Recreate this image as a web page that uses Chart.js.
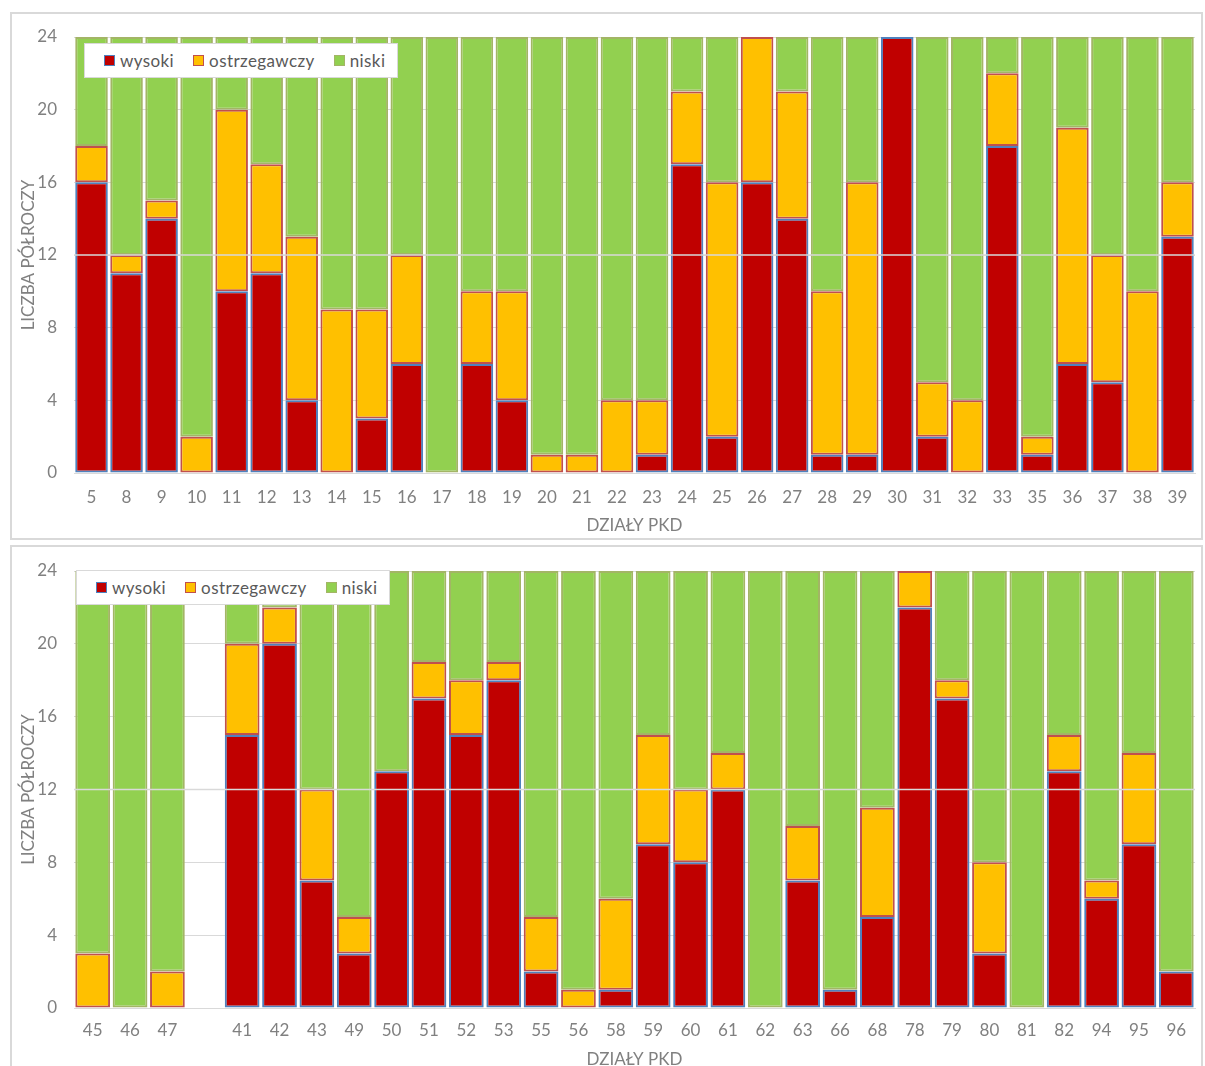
<!DOCTYPE html>
<html>
<head>
<meta charset="utf-8">
<script src="https://cdn.jsdelivr.net/npm/chart.js@4/dist/chart.umd.min.js"></script>
<style>
body { margin: 0; background: #fff; width: 1205px; height: 1066px; overflow: hidden; position: relative; font-family: Lato, sans-serif; }
.panel { position: absolute; left: 10px; width: 1189px; height: 524px; border: 2px solid #d9d9d9; background: #fff; }
.panel canvas { position: absolute; left: 0; top: 0; }
.legenda { position: absolute; background: #fff; border: 1px solid #d9d9d9; height: 35px; width: 314px; box-sizing: border-box;
  display: flex; align-items: center; padding-left: 19px; font-size: 17px; letter-spacing: 0.4px; color: #595959; }
.legenda .item { display: flex; align-items: center; margin-right: 19px; }
.legenda .box { display: inline-block; width: 9px; height: 9px; margin-right: 5px; border: 1px solid; }
</style>
</head>
<body>
<div class="panel" style="top:12px">
  <canvas id="wykres1" width="1189" height="524"></canvas>
  <div class="legenda" id="legenda1" style="left:72px;top:29px"></div>
</div>
<div class="panel" style="top:545px">
  <canvas id="wykres2" width="1189" height="524"></canvas>
  <div class="legenda" id="legenda2" style="left:64px;top:23px"></div>
</div>
<script>
// dzialy PKD - gorny wykres
var dzialy1 = ["5","8","9","10","11","12","13","14","15","16","17","18","19","20","21","22","23","24","25","26","27","28","29","30","31","32","33","35","36","37","38","39"];
var wysoki1 = [16,11,14,0,10,11,4,0,3,6,0,6,4,0,0,0,1,17,2,16,14,1,1,24,2,0,18,1,6,5,0,13];
var ostrzegawczy1 = [2,1,1,2,10,6,9,9,6,6,0,4,6,1,1,4,3,4,14,8,7,9,15,0,3,4,4,1,13,7,10,3];
var niski1 = [6,12,9,22,4,7,11,15,15,12,24,14,14,23,23,20,20,3,8,0,3,14,8,0,19,20,2,22,5,12,14,8];

// dolny wykres (pusta kolumna po 47)
var dzialy2 = ["45","46","47","","41","42","43","49","50","51","52","53","55","56","58","59","60","61","62","63","66","68","78","79","80","81","82","94","95","96"];
var wysoki2 = [0,0,0,null,15,20,7,3,13,17,15,18,2,0,1,9,8,12,0,7,1,5,22,17,3,0,13,6,9,2];
var ostrzegawczy2 = [3,0,2,null,5,2,5,2,0,2,3,1,3,1,5,6,4,2,0,3,0,6,2,1,5,0,2,1,5,0];
var niski2 = [21,24,22,null,4,2,12,19,11,5,6,5,19,23,18,9,12,10,24,14,23,13,0,6,16,24,9,17,10,22];

var yTicks = [0, 4, 8, 12, 16, 20, 24];

var serie = [
  { label: "wysoki", kolor: "#c00000", ramka: "#4f81bd" },
  { label: "ostrzegawczy", kolor: "#ffc000", ramka: "#c0504d" },
  { label: "niski", kolor: "#92d050", ramka: "#a3b566" }
];

var szary = "#808080";
var czcionka = { family: "Lato, sans-serif", size: 17 };

// jasna linia na 12 widoczna nad slupkami
var linia12 = {
  id: "linia12",
  afterDatasetsDraw: function (chart) {
    var a = chart.chartArea;
    var y = chart.scales.y.getPixelForValue(12);
    var ctx = chart.ctx;
    ctx.save();
    ctx.strokeStyle = "#d9d9d9";
    ctx.lineWidth = 1.5;
    ctx.beginPath();
    ctx.moveTo(a.left, y);
    ctx.lineTo(a.right, y);
    ctx.stroke();
    ctx.restore();
  }
};

function rysuj(id, legId, labels, w, o, n, uklad) {
  var wartosci = [w, o, n];
  var datasets = serie.map(function (s, i) {
    return {
      label: s.label,
      data: wartosci[i],
      backgroundColor: s.kolor,
      borderColor: s.ramka,
      borderWidth: 2,
      borderSkipped: false,
      categoryPercentage: 1,
      barPercentage: 0.93
    };
  });

  var leg = document.getElementById(legId);
  serie.forEach(function (s) {
    var it = document.createElement("span");
    it.className = "item";
    var b = document.createElement("span");
    b.className = "box";
    b.style.background = s.kolor;
    b.style.borderColor = s.ramka;
    it.appendChild(b);
    it.appendChild(document.createTextNode(s.label));
    leg.appendChild(it);
  });

  return new Chart(document.getElementById(id).getContext("2d"), {
    type: "bar",
    data: { labels: labels, datasets: datasets },
    options: {
      responsive: false,
      animation: false,
      layout: { padding: { top: uklad.gora, right: 6, left: 0, bottom: 0 } },
      plugins: { legend: { display: false }, tooltip: { enabled: false } },
      scales: {
        x: {
          stacked: true,
          grid: { display: false },
          border: { display: true, color: "#d9d9d9", width: 1 },
          ticks: { color: szary, font: czcionka, padding: uklad.tickPad, autoSkip: false, maxRotation: 0 },
          title: { display: true, text: "DZIAŁY PKD", color: szary, font: czcionka, padding: { top: 0, bottom: uklad.tytulPad } },
          afterFit: function (s) { s.height = uklad.xH; }
        },
        y: {
          stacked: true,
          min: 0,
          max: 24,
          grid: { color: "#d9d9d9", lineWidth: 1, drawTicks: true, tickLength: 17, tickColor: "rgba(0,0,0,0)" },
          border: { display: false },
          afterBuildTicks: function (s) { s.ticks = yTicks.map(function (v) { return { value: v }; }); },
          ticks: { color: szary, font: czcionka, padding: 0 },
          title: { display: true, text: "LICZBA PÓŁROCZY", color: szary, font: czcionka, padding: { top: 6, bottom: 0 } },
          afterFit: function (s) { s.width = 62; }
        }
      }
    },
    plugins: [linia12]
  });
}

rysuj("wykres1", "legenda1", dzialy1, wysoki1, ostrzegawczy1, niski1, { gora: 23, xH: 65, tickPad: 6, tytulPad: 2 });
rysuj("wykres2", "legenda2", dzialy2, wysoki2, ostrzegawczy2, niski2, { gora: 24, xH: 63, tickPad: 4, tytulPad: 1 });
</script>
</body>
</html>
